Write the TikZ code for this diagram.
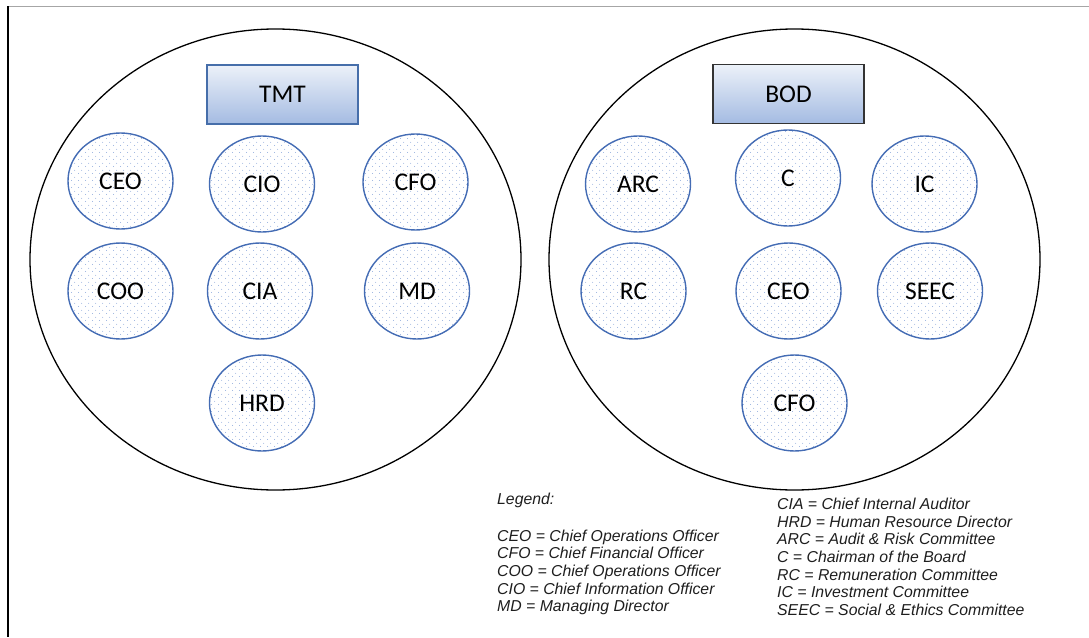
\documentclass[tikz,border=0pt]{standalone}
\usepackage{fontspec}
\usetikzlibrary{shapes.geometric,patterns.meta}
\newfontfamily\calibri{Carlito}
\newfontfamily\arial{Liberation Sans}

\definecolor{circblue}{RGB}{68,108,180}
\definecolor{dotblue}{RGB}{130,160,215}
\definecolor{boxtop}{RGB}{236,241,249}
\definecolor{boxbot}{RGB}{164,187,226}
\definecolor{boxline}{RGB}{70,110,170}
\definecolor{legendtext}{RGB}{30,30,30}

\tikzdeclarepattern{
  name=sparsedots,
  type=uncolored,
  bounding box={(0pt,0pt) and (7pt,7pt)},
  tile size={(7pt,7pt)},
  code={
    \fill (1.75pt,1.75pt) circle [radius=0.55pt];
    \fill (5.25pt,5.25pt) circle [radius=0.55pt];
  }
}

\tikzset{
  zone/.style={ellipse, draw=black, line width=1.3pt, inner sep=0pt,
    minimum width=491pt, minimum height=461pt},
  member/.style={ellipse, draw=circblue, line width=1.4pt, inner sep=0pt,
    minimum width=105pt, minimum height=96pt,
    pattern=sparsedots, pattern color=dotblue,
    font=\calibri\fontsize{25.5}{30}\selectfont, text=black},
  title/.style={rectangle, line width=1.2pt, inner sep=0pt,
    minimum width=151pt, minimum height=59pt,
    top color=boxtop, bottom color=boxbot,
    font=\calibri\fontsize{25.5}{30}\selectfont, text=black},
  legend/.style={anchor=north west, align=left, inner sep=0pt,
    font=\arial\itshape\fontsize{15.8}{17.6}\selectfont, text=legendtext}
}

\begin{document}
\begin{tikzpicture}[x=1pt,y=-1pt]
  \useasboundingbox (0,0) rectangle (1089,637);

  % page frame
  \draw[gray!70, line width=1pt] (8,6) -- (1089,6);
  \draw[black, line width=1.2pt] (8,6) -- (8,637);

  % the two groups
  \node[zone] (tmtzone) at (275.5,259.5) {};
  \node[zone] (bodzone) at (794.5,259.5) {};

  % top management team
  \node[title, draw=boxline] (tmt) at (282.5,94.5) {TMT};
  \node[member] (tceo) at (120.5,181) {CEO};
  \node[member] (tcio) at (262,184) {CIO};
  \node[member] (tcfo) at (415.5,182) {CFO};
  \node[member] (tcoo) at (120.5,291) {COO};
  \node[member] (tcia) at (260,291) {CIA};
  \node[member] (tmd)  at (417,291) {MD};
  \node[member] (thrd) at (262,403) {HRD};

  % board of directors
  \node[title, draw=black!80] (bod) at (788.5,94) {BOD};
  \node[member] (barc)  at (638,184) {ARC};
  \node[member] (bc)    at (788,178) {C};
  \node[member] (bic)   at (924.5,184) {IC};
  \node[member] (brc)   at (633.5,291) {RC};
  \node[member] (bceo)  at (788.5,291) {CEO};
  \node[member] (bseec) at (930,291) {SEEC};
  \node[member] (bcfo)  at (794.5,403) {CFO};

  % legend
  \node[legend] (legleft) at (497,493) {Legend:\\[19pt]
    CEO = Chief Operations Officer\\
    CFO = Chief Financial Officer\\
    COO = Chief Operations Officer\\
    CIO = Chief Information Officer\\
    MD = Managing Director};
  \node[legend] (legright) at (777,498) {CIA = Chief Internal Auditor\\
    HRD = Human Resource Director\\
    ARC = Audit \& Risk Committee\\
    C = Chairman of the Board\\
    RC = Remuneration Committee\\
    IC = Investment Committee\\
    SEEC = Social \& Ethics Committee};
\end{tikzpicture}
\end{document}
